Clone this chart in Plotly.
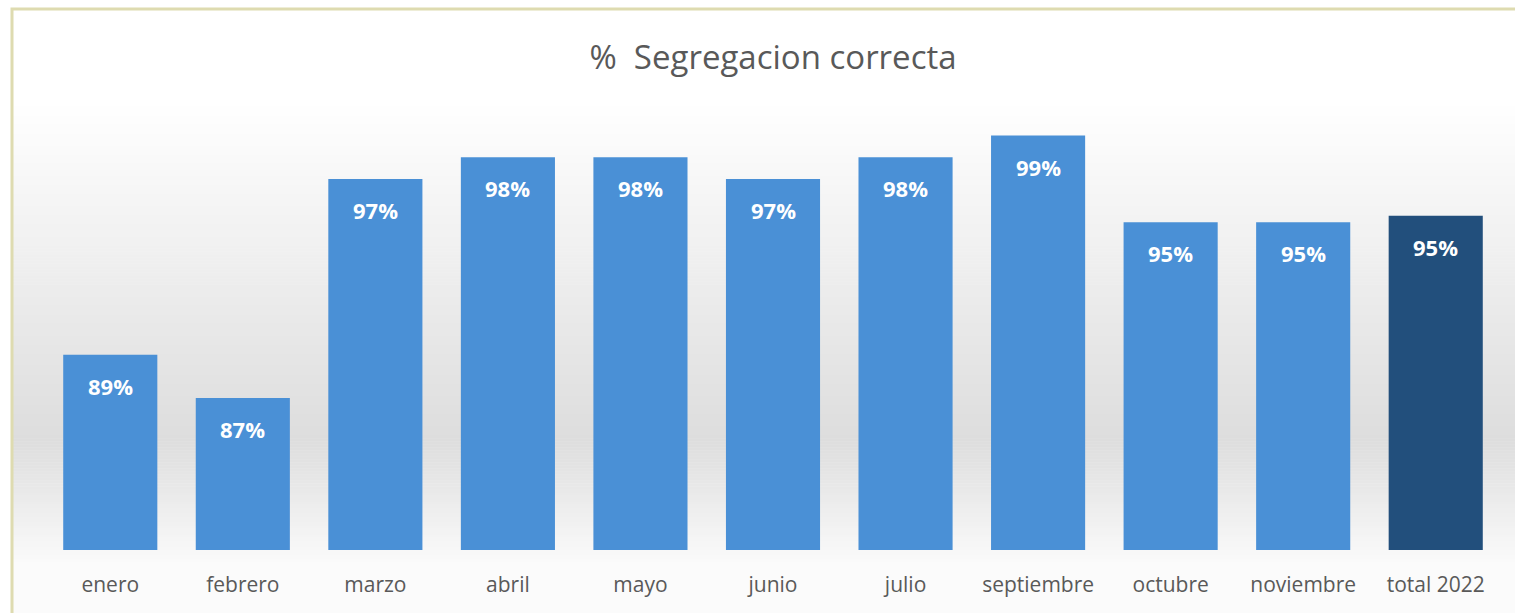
import plotly.graph_objects as go

categories = ["enero", "febrero", "marzo", "abril", "mayo", "junio", "julio",
              "septiembre", "octubre", "noviembre", "total 2022"]
values = [89.0, 87.0, 97.1, 98.1, 98.1, 97.1, 98.1, 99.1, 95.1, 95.1, 95.4]
labels = ["89%", "87%", "97%", "98%", "98%", "97%", "98%", "99%", "95%", "95%", "95%"]
bar_colors = ["#4a90d6"] * 10 + ["#224f7c"]

W, H = 1515, 613
ml, mr, mt, mb = 44, 13, 116, 63

fig = go.Figure()
fig.add_trace(go.Bar(
    x=categories, y=values, base=0,
    marker=dict(color=bar_colors, line=dict(width=0)),
    hoverinfo="skip",
))

# value labels inside bars near the top
for c, v, t in zip(categories, values, labels):
    fig.add_annotation(x=c, y=v, text=t, showarrow=False, yshift=-31,
                       font=dict(family="Open Sans", size=22, color="white", weight="bold"))

# background vertical gradient (white -> light gray -> white) via thin bands
shapes = []
pw = W - ml - mr
ph = H - mt - mb
n = 200
def px_to_py(y):
    return (H - mb - y) / ph
def shade(y):
    if y < 100:
        g = 255
    elif y < 440:
        g = 255 - (y - 100) / 340 * 34
    elif y < 565:
        g = 221 + (y - 440) / 125 * 30
    else:
        g = 251
    g = int(round(g))
    return f"rgb({g},{g},{g})"
for i in range(n):
    y0 = 10 + i * (H - 10) / n
    y1 = 10 + (i + 1) * (H - 10) / n
    shapes.append(dict(type="rect", xref="paper", yref="paper",
                       x0=(12 - ml) / pw, x1=(W + 5 - ml) / pw,
                       y0=px_to_py(y1 + 0.5), y1=px_to_py(y0),
                       fillcolor=shade((y0 + y1) / 2), line=dict(width=0), layer="below"))
# frame border
shapes.append(dict(type="rect", xref="paper", yref="paper",
                   x0=(12 - ml) / pw, x1=(W + 5 - ml) / pw,
                   y0=px_to_py(H + 5), y1=px_to_py(9),
                   fillcolor="rgba(0,0,0,0)", line=dict(color="#dedbb0", width=3), layer="below"))

fig.update_layout(
    width=W, height=H,
    margin=dict(l=ml, r=mr, t=mt, b=mb),
    paper_bgcolor="white", plot_bgcolor="rgba(0,0,0,0)",
    shapes=shapes,
    bargap=0.29,
    showlegend=False,
    title=dict(text="%  Segregacion correcta", x=0.5, xanchor="center", xref="paper",
               y=1 - 57 / H, yanchor="middle",
               font=dict(family="Open Sans", size=33, color="#595959")),
    xaxis=dict(showline=False, showgrid=False, ticks="", zeroline=False,
               ticklabelstandoff=20,
               tickfont=dict(family="Open Sans", size=21, color="#595959")),
    yaxis=dict(range=[80, 100], visible=False, showgrid=False, zeroline=False),
)

fig.write_html("out.html")
